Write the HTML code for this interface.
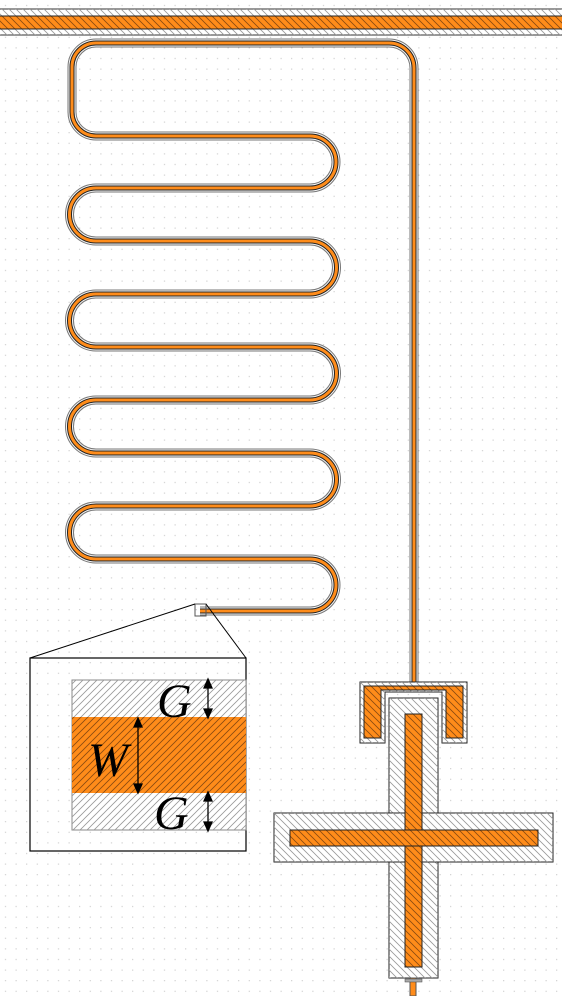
<!DOCTYPE html>
<html><head><meta charset="utf-8"><style>
html,body{margin:0;padding:0;background:#fff}
svg{display:block}
</style></head><body>
<svg width="562" height="996" viewBox="0 0 562 996" xmlns="http://www.w3.org/2000/svg">
<defs>
<pattern id="dots" width="10.6" height="10.6" patternUnits="userSpaceOnUse"><rect x="5" y="5" width="1" height="1" fill="#bbb"/></pattern>
<pattern id="hb" width="7" height="7" patternUnits="userSpaceOnUse"><path d="M-1,-1 L8,8 M-8,-1 L1,8 M6,-1 L15,8" stroke="#999" stroke-width="0.8"/></pattern>
<pattern id="ho" width="7" height="7" patternUnits="userSpaceOnUse"><rect width="7" height="7" fill="#ff8c1a"/><path d="M-1,-1 L8,8 M-8,-1 L1,8 M6,-1 L15,8" stroke="#8a4a10" stroke-width="0.8"/></pattern>
<pattern id="hf" width="7" height="7" patternUnits="userSpaceOnUse"><path d="M-1,8 L8,-1 M-8,8 L1,-1 M6,8 L15,-1" stroke="#999" stroke-width="0.8"/></pattern>
<pattern id="hfo" width="7" height="7" patternUnits="userSpaceOnUse"><rect width="7" height="7" fill="#ff8c1a"/><path d="M-1,8 L8,-1 M-8,8 L1,-1 M6,8 L15,-1" stroke="#8a4a10" stroke-width="0.8"/></pattern>
<path id="mp" d="M200,611 L310,611 A26,26 0 0 0 310,559 L96,559 A26.5,26.5 0 0 1 96,506 L310,506 A26.5,26.5 0 0 0 310,453 L96,453 A26.5,26.5 0 0 1 96,400 L310,400 A26.5,26.5 0 0 0 310,347 L96,347 A26.5,26.5 0 0 1 96,294 L310,294 A26.5,26.5 0 0 0 310,241 L96,241 A26.5,26.5 0 0 1 96,188 L310,188 A26,26 0 0 0 310,136 L96,136 A24,24 0 0 1 72,112 L72,67 A24,24 0 0 1 96,43 L389,43 A25,25 0 0 1 414,68 L414,688"/>
</defs>
<rect width="562" height="996" fill="url(#dots)"/>
<g>
<rect x="-2" y="9" width="566" height="26" fill="#fff" stroke="#333" stroke-width="1"/>
<rect x="-2" y="9" width="566" height="26" fill="url(#hb)"/>
<rect x="-2" y="16" width="566" height="13" fill="url(#ho)" stroke="#222" stroke-width="1"/>
</g>
<g fill="none" stroke-linejoin="round">
<use href="#mp" stroke="#777" stroke-width="9"/>
<use href="#mp" stroke="#f4f4f4" stroke-width="7"/>
<use href="#mp" stroke="#222" stroke-width="5"/>
<use href="#mp" stroke="#ff8c1a" stroke-width="3"/>
</g>
<g>
<path d="M360,682 H467 V743 H442 V692 H385 V743 H360 Z" fill="#fff" stroke="#222"/>
<path d="M360,682 H467 V743 H442 V692 H385 V743 H360 Z" fill="url(#hb)"/>
<path d="M364,686 H463 V738 H446 V690 H381 V738 H364 Z" fill="url(#ho)" stroke="#222"/>
</g>
<g>
<rect x="389" y="698" width="49" height="280" fill="#fff" stroke="#222"/>
<rect x="389" y="698" width="49" height="280" fill="url(#hb)"/>
<rect x="274" y="813" width="279" height="49" fill="#fff" stroke="#222"/>
<rect x="274" y="813" width="279" height="49" fill="url(#hb)"/>
<rect x="405" y="714" width="17" height="253" fill="url(#ho)" stroke="#222"/>
<rect x="290" y="830" width="248" height="16" fill="url(#ho)" stroke="#222"/>
<rect x="410" y="978" width="6" height="18" fill="#ff8c1a" stroke="#555"/>
<rect x="405" y="979" width="17" height="3" fill="#aaa" stroke="#444" stroke-width="0.5"/>
</g>
<g>
<rect x="195" y="604" width="11" height="12" fill="none" stroke="#555"/>
<line x1="195" y1="604" x2="30" y2="658" stroke="#000"/>
<line x1="206" y1="604" x2="246" y2="658" stroke="#000"/>
<rect x="30" y="658" width="216" height="193" fill="#fff" stroke="#000" stroke-width="1.2"/>
<rect x="30" y="658" width="216" height="193" fill="url(#dots)"/>
<rect x="72" y="680" width="174" height="150" fill="#fff" stroke="#888"/>
<rect x="72" y="680" width="174" height="150" fill="url(#hf)"/>
<rect x="72" y="717" width="174" height="76" fill="url(#hfo)"/>
<text x="157" y="717" font-family="Liberation Serif, serif" font-style="italic" font-size="48" fill="#000">G</text>
<text x="154" y="829" font-family="Liberation Serif, serif" font-style="italic" font-size="48" fill="#000">G</text>
<text x="88" y="776" font-family="Liberation Serif, serif" font-style="italic" font-size="48" fill="#000">W</text>
<g stroke="#000" stroke-width="1.3" fill="#000">
<line x1="208" y1="681" x2="208" y2="716"/><path d="M204,688 L208,679 L212,688 Z M204,709 L208,718 L212,709 Z"/>
<line x1="208" y1="794" x2="208" y2="829"/><path d="M204,801 L208,792 L212,801 Z M204,822 L208,831 L212,822 Z"/>
<line x1="138" y1="720" x2="138" y2="791"/><path d="M134,727 L138,718 L142,727 Z M134,784 L138,793 L142,784 Z"/>
</g>
</g>
</svg>
</body></html>
